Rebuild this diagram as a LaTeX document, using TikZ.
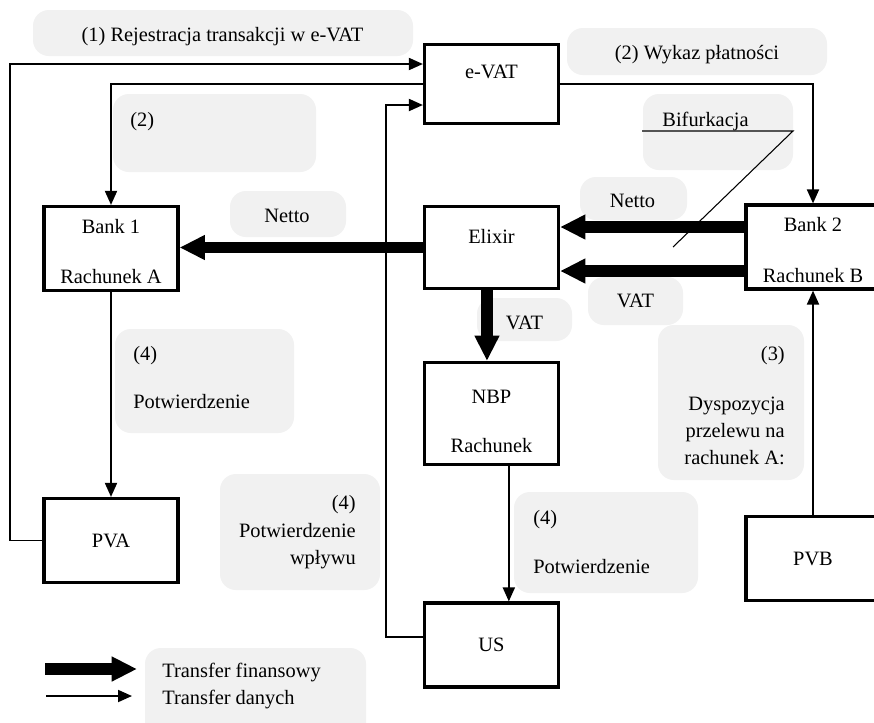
\documentclass[tikz,border=0pt]{standalone}
\usepackage{fontspec}
\setmainfont{Liberation Serif}
\usepackage{xcolor}
\usetikzlibrary{arrows.meta, positioning, calc}
\definecolor{bubblegrey}{HTML}{F1F1F1}

\tikzset{
  box/.style={draw, line width=2.4pt, minimum width=100.5pt, minimum height=63pt, inner sep=0pt, text height=10.5pt, align=center},
  bubble/.style={fill=bubblegrey, rounded corners=12pt},
  txt/.style={inner sep=0pt},
  data/.style={line width=1.4pt, -{Triangle[length=10.5pt,width=9pt]}},
  money/.style={line width=8.5pt, -{Triangle[length=19pt,width=17.5pt]}}
}

\begin{document}
\begin{tikzpicture}[x=0.75pt, y=-0.75pt, font=\rmfamily\fontsize{15.3}{20.25}\selectfont]
  \useasboundingbox[fill=white] (0,0) rectangle (874,722);

  % Grey label bubbles
  \fill[bubble] (33,10) rectangle (413,56);
  \fill[bubble] (567,28) rectangle (827,75);
  \fill[bubble] (113,94) rectangle (316,172);
  \fill[bubble] (643,94) rectangle (793,170);
  \fill[bubble] (580,177) rectangle (687,220);
  \fill[bubble] (230,191) rectangle (346,237);
  \fill[bubble] (588,277) rectangle (683,325);
  \fill[bubble] (477,298) rectangle (572,341);
  \fill[bubble] (658,325) rectangle (804,480);
  \fill[bubble] (115,329) rectangle (294,433);
  \fill[bubble] (220,474) rectangle (380,590);
  \fill[bubble] (514,492) rectangle (698,593);
  \fill[bubble] (145,648) rectangle (366,740);

  % Bubble texts
  \node[txt, anchor=base] (lblreg) at (222.5,41) {(1) Rejestracja transakcji w e-VAT};
  \node[txt, anchor=base] (lblwykaz) at (697,59) {(2) Wykaz płatności};
  \node[txt, anchor=base west] (lbltwo) at (130,126) {(2)};
  \node[txt, anchor=base] (lblbif) at (705.5,126) {Bifurkacja};
  \node[txt, anchor=base] (lblnettoB) at (632.5,207) {Netto};
  \node[txt, anchor=base] (lblnettoA) at (287,222) {Netto};
  \node[txt, anchor=base] (lblvatB) at (635.5,307) {VAT};
  \node[txt, anchor=base] (lblvatnbp) at (524.5,329) {VAT};
  \node[txt, anchor=base west] (lblfourA) at (133,360) {(4)};
  \node[txt, anchor=base west] (lblconfA) at (133,408) {Potwierdzenie};
  \node[txt, anchor=base east] (lblfourB) at (356,509) {(4)};
  \foreach \txt [count=\i] in {Potwierdzenie, wpływu}
    \node[txt, anchor=base east] (lblconfB\i) at (356,510+27*\i) {\txt};
  \node[txt, anchor=base east] (lblthree) at (785,360) {(3)};
  \foreach \txt [count=\i] in {Dyspozycja, przelewu na, rachunek A:}
    \node[txt, anchor=base east] (lbldisp\i) at (785,383+27*\i) {\txt};
  \node[txt, anchor=base west] (lblfourC) at (533,524) {(4)};
  \node[txt, anchor=base west] (lblconfC) at (533,573) {Potwierdzenie};
  \node[txt, anchor=base west] (lblfin) at (162,677) {Transfer finansowy};
  \node[txt, anchor=base west] (lbldane) at (162,704) {Transfer danych};

  % Boxes
  \node[box, minimum height=59pt, text depth=19.5pt] (evat) at (491.5,84) {e-VAT};
  \node[box, text height=51.75pt, text depth=0pt] (bank1) at (111,248.5) {Bank 1\\[17pt]Rachunek A};
  \node[box, minimum height=61.5pt, text depth=17.25pt] (elixir) at (491.5,247.5) {Elixir};
  \node[box, text height=52.5pt, text depth=0pt] (bank2) at (813,247) {Bank 2\\[17.5pt]Rachunek B};
  \node[box, minimum height=76.5pt, text height=57.75pt, text depth=0pt] (nbp) at (491.5,413.5) {NBP\\[16.5pt]Rachunek};
  \node[box] (pva) at (111,540.5) {PVA};
  \node[box] (us) at (491.5,645) {US};
  \node[box] (pvb) at (813,558.5) {PVB};

  % Data transfers
  \coordinate (railL) at (10,0);
  \coordinate (railUS) at (386,0);
  \coordinate (usout) at ([yshift=6pt]us.west);
  \draw[data] (pva.west) -- (pva.west -| railL) |- ([yshift=15pt]evat.west);
  \draw[data] (evat.west) -| (bank1.north);
  \draw[data] (evat.east) -| (bank2.north);
  \draw[data] (usout) -- (usout -| railUS) |- ([yshift=-15.75pt]evat.west);
  \draw[data] (bank1.south) -- (pva.north);
  \draw[data] ([xshift=13pt]nbp.south) -- ([xshift=13pt]us.north);
  \draw[data] (pvb.north) -- (bank2.south);

  % Financial transfers
  \coordinate (nettoB) at ([yshift=15pt]bank2.west);
  \coordinate (vatB) at ([yshift=-18pt]bank2.west);
  \draw[money] (elixir.west) -- (elixir.west -| bank1.east);
  \draw[money] (nettoB) -- (nettoB -| elixir.east);
  \draw[money] (vatB) -- (vatB -| elixir.east);
  \draw[money] ([xshift=-3.4pt]elixir.south) -- ([xshift=-3.4pt]nbp.north);

  % Bifurkacja pointer
  \draw[line width=0.8pt] (642,131) -- (793,131) -- (673,247);

  % Legend
  \coordinate (legmoneyA) at (45,669);
  \coordinate (legmoneyB) at (137,669);
  \coordinate (legdataA) at (46,696);
  \coordinate (legdataB) at (132,696);
  \draw[money] (legmoneyA) -- (legmoneyB);
  \draw[data] (legdataA) -- (legdataB);
\end{tikzpicture}
\end{document}
